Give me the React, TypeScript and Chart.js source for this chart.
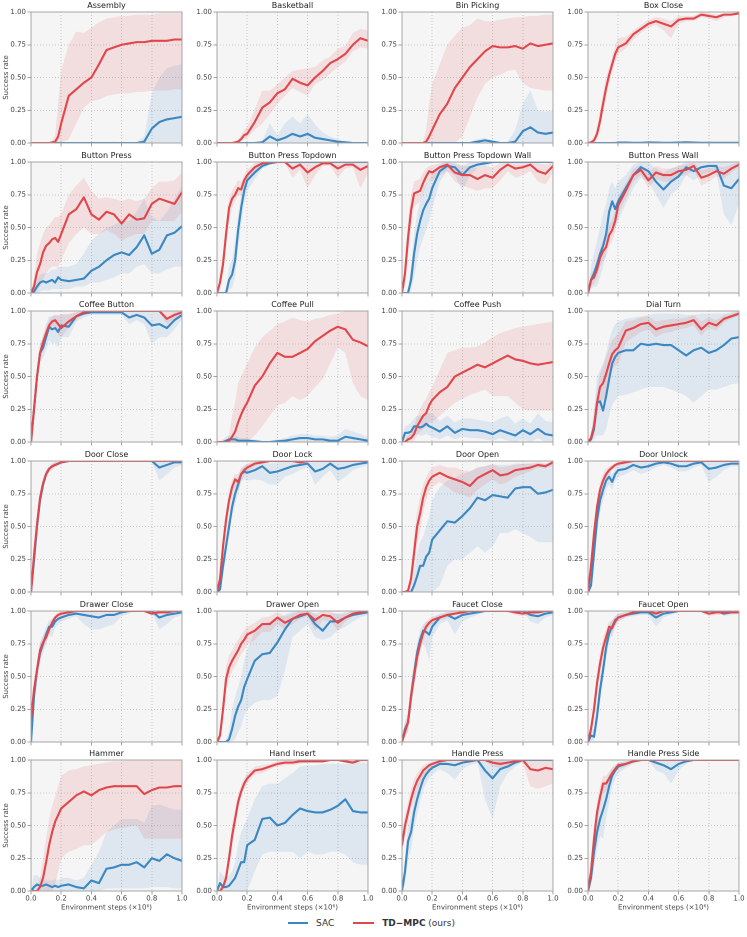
import React, { useEffect, useRef } from 'react';
import { Chart, registerables } from 'chart.js';

Chart.register(...registerables);

// ---------- shared axes ----------
const STEPS = [0, 0.02, 0.04, 0.06, 0.08, 0.1, 0.12, 0.14, 0.16, 0.18, 0.2, 0.25, 0.3, 0.35, 0.4, 0.45, 0.5, 0.55, 0.6, 0.65, 0.7, 0.75, 0.8, 0.85, 0.9, 0.95, 1];
const X_TICKS = [0, 0.2, 0.4, 0.6, 0.8, 1];
const Y_TICKS = [0, 0.25, 0.5, 0.75, 1];
const SERIES_NAMES = ['SAC', 'TD\u2212MPC'];

// ---------- Assembly ----------
const assemblySac = [0,0,0,0,0,0,0,0,0,0,0, 0,0,0,0,0,0,0,0,0,0,0.01,0.11,0.16,0.18,0.19,0.2];
const assemblySacLo = [0,0,0,0,0,0,0,0,0,0,0, 0,0,0,0,0,0,0,0,0,0,0,0,0,0,0,0];
const assemblySacHi = [0,0,0,0,0,0,0,0,0,0,0, 0,0.005,0.005,0.01,0.01,0.01,0.01,0.005,0.005,0.005,0.05,0.38,0.5,0.57,0.59,0.6];
const assemblyTd = [0,0,0,0,0,0,0,0.005,0.01,0.05,0.15, 0.36,0.41,0.46,0.5,0.6,0.71,0.73,0.75,0.76,0.77,0.77,0.78,0.78,0.78,0.79,0.79];
const assemblyTdLo = [0,0,0,0,0,0,0,0,0,0,0, 0.03,0.15,0.27,0.32,0.33,0.36,0.37,0.38,0.38,0.39,0.39,0.4,0.4,0.4,0.41,0.41];
const assemblyTdHi = [0,0,0,0,0,0,0,0.02,0.06,0.3,0.55, 0.75,0.85,0.84,0.88,0.92,0.95,0.96,0.97,0.97,0.98,0.98,0.98,0.99,0.99,0.99,0.99];

// ---------- Basketball ----------
const basketballSac = [0,0,0,0,0,0,0,0,0,0,0, 0,0.005,0.05,0.02,0.04,0.07,0.05,0.07,0.04,0.03,0.02,0.01,0.005,0,0,0];
const basketballSacLo = [0,0,0,0,0,0,0,0,0,0,0, 0,0,0,0,0,0,0,0,0,0,0,0,0,0,0,0];
const basketballSacHi = [0,0,0,0,0,0,0,0,0,0,0.01, 0,0.02,0.15,0.06,0.15,0.2,0.15,0.22,0.14,0.08,0.05,0.03,0.01,0.005,0,0];
const basketballTd = [0,0,0,0,0,0,0.005,0.01,0.03,0.06,0.07, 0.16,0.27,0.31,0.38,0.41,0.49,0.46,0.44,0.5,0.55,0.61,0.64,0.68,0.75,0.8,0.78];
const basketballTdLo = [0,0,0,0,0,0,0,0,0.01,0.03,0.04, 0.1,0.15,0.22,0.3,0.36,0.42,0.39,0.36,0.45,0.48,0.53,0.58,0.62,0.7,0.73,0.72];
const basketballTdHi = [0,0,0,0,0,0,0.01,0.03,0.06,0.1,0.12, 0.26,0.4,0.4,0.45,0.5,0.55,0.56,0.57,0.58,0.63,0.66,0.72,0.74,0.84,0.87,0.86];

// ---------- Bin Picking ----------
const binPickingSac = [0,0,0,0,0,0,0,0,0,0,0, 0,0,0,0,0,0.01,0.02,0.01,0,0,0.01,0.09,0.12,0.08,0.07,0.08];
const binPickingSacLo = [0,0,0,0,0,0,0,0,0,0,0, 0,0,0,0,0,0,0,0,0,0,0,0,0,0,0,0];
const binPickingSacHi = [0,0,0,0,0,0,0,0,0,0,0, 0,0,0,0,0.01,0.03,0.04,0.02,0.01,0.01,0.1,0.3,0.4,0.25,0.24,0.25];
const binPickingTd = [0,0,0,0,0,0,0,0,0.01,0.05,0.1, 0.22,0.3,0.42,0.5,0.58,0.64,0.7,0.74,0.73,0.73,0.74,0.72,0.76,0.74,0.75,0.76];
const binPickingTdLo = [0,0,0,0,0,0,0,0,0,0,0, 0,0,0,0.05,0.2,0.35,0.45,0.5,0.52,0.55,0.56,0.46,0.42,0.41,0.4,0.4];
const binPickingTdHi = [0,0,0,0,0,0,0,0.01,0.1,0.3,0.45, 0.6,0.75,0.82,0.88,0.9,0.95,0.93,0.93,0.94,0.95,0.96,0.96,0.97,0.97,0.98,0.98];

// ---------- Box Close ----------
const boxCloseSac = [0,0,0,0,0,0,0,0,0,0,0.003, 0.003,0.002,0.002,0.004,0.003,0.002,0.002,0.003,0.005,0.003,0.002,0.002,0.002,0.002,0.002,0.002];
const boxCloseSacLo = [0,0,0,0,0,0,0,0,0,0,0, 0,0,0,0,0,0,0,0,0,0,0,0,0,0,0,0];
const boxCloseSacHi = [0,0.003,0.003,0.003,0.003,0.005,0.006,0.008,0.01,0.01,0.012, 0.01,0.008,0.008,0.012,0.01,0.008,0.008,0.01,0.015,0.01,0.008,0.008,0.008,0.008,0.008,0.008];
const boxCloseTd = [0,0.005,0.02,0.07,0.17,0.3,0.42,0.52,0.6,0.68,0.73, 0.76,0.83,0.87,0.91,0.93,0.91,0.89,0.94,0.95,0.95,0.98,0.97,0.96,0.98,0.98,0.99];
const boxCloseTdLo = [0,0,0,0.03,0.1,0.22,0.34,0.46,0.54,0.62,0.68, 0.72,0.79,0.84,0.88,0.9,0.86,0.8,0.91,0.93,0.93,0.96,0.95,0.93,0.96,0.97,0.98];
const boxCloseTdHi = [0,0.02,0.05,0.12,0.25,0.38,0.5,0.58,0.66,0.74,0.8, 0.81,0.86,0.9,0.94,0.96,0.95,0.93,0.97,0.97,0.97,1,0.99,0.98,0.99,0.99,1];

// ---------- Button Press ----------
const buttonPressSac = [0,0.01,0.05,0.08,0.09,0.08,0.09,0.1,0.08,0.12,0.1, 0.09,0.1,0.11,0.17,0.2,0.25,0.29,0.31,0.29,0.35,0.44,0.3,0.33,0.44,0.46,0.51];
const buttonPressSacLo = [0,0,0,0.01,0.02,0.02,0.02,0.03,0.03,0.03,0.03, 0.03,0.05,0.05,0.08,0.08,0.1,0.12,0.15,0.15,0.2,0.22,0.15,0.15,0.18,0.2,0.2];
const buttonPressSacHi = [0,0.03,0.1,0.14,0.15,0.15,0.16,0.18,0.18,0.2,0.2, 0.2,0.22,0.3,0.4,0.45,0.5,0.52,0.55,0.55,0.62,0.72,0.58,0.55,0.62,0.72,0.82];
const buttonPressTd = [0,0.05,0.16,0.22,0.31,0.36,0.38,0.41,0.42,0.39,0.45, 0.6,0.64,0.73,0.6,0.56,0.62,0.6,0.53,0.6,0.56,0.57,0.68,0.72,0.7,0.68,0.77];
const buttonPressTdLo = [0,0,0.02,0.05,0.1,0.15,0.18,0.2,0.2,0.2,0.25, 0.38,0.45,0.5,0.45,0.45,0.48,0.45,0.4,0.43,0.45,0.45,0.55,0.55,0.55,0.55,0.62];
const buttonPressTdHi = [0,0.12,0.3,0.38,0.45,0.5,0.52,0.55,0.58,0.58,0.6, 0.75,0.82,0.88,0.78,0.72,0.73,0.72,0.7,0.72,0.7,0.72,0.8,0.85,0.85,0.86,0.92];

// ---------- Button Press Topdown ----------
const bpTopdownSac = [0,0,0,0,0.1,0.14,0.25,0.48,0.65,0.78,0.86, 0.92,0.97,0.99,1,1,1,1,1,1,1,1,1,1,1,1,1];
const bpTopdownSacLo = [0,0,0,0,0.02,0.04,0.12,0.35,0.52,0.68,0.78, 0.87,0.95,0.98,0.99,1,1,1,1,1,1,1,1,1,1,1,1];
const bpTopdownSacHi = [0,0,0,0.02,0.2,0.25,0.4,0.6,0.75,0.85,0.9, 0.96,0.99,1,1,1,1,1,1,1,1,1,1,1,1,1,1];
const bpTopdownTd = [0,0.08,0.22,0.45,0.65,0.72,0.75,0.8,0.79,0.86,0.9, 0.96,0.99,1,1,1,0.95,0.98,0.92,0.96,0.99,0.99,0.95,0.98,0.98,0.94,0.97];
const bpTopdownTdLo = [0,0.03,0.15,0.35,0.55,0.65,0.7,0.75,0.74,0.82,0.86, 0.93,0.97,0.99,0.99,0.99,0.88,0.94,0.8,0.9,0.97,0.97,0.88,0.95,0.96,0.8,0.92];
const bpTopdownTdHi = [0,0.15,0.32,0.55,0.72,0.78,0.82,0.86,0.85,0.9,0.94, 0.99,1,1,1,1,1,1,1,1,1,1,1,1,1,1,1];

// ---------- Button Press Topdown Wall ----------
const bpTopdownWallSac = [0,0,0,0.1,0.3,0.45,0.55,0.63,0.68,0.72,0.8, 0.93,0.97,0.96,0.9,0.96,0.98,0.99,1,1,1,1,1,1,1,1,1];
const bpTopdownWallSacLo = [0,0,0,0.02,0.12,0.25,0.35,0.42,0.48,0.55,0.65, 0.85,0.93,0.9,0.78,0.9,0.95,0.97,0.99,1,1,1,1,1,1,1,1];
const bpTopdownWallSacHi = [0,0,0.02,0.2,0.45,0.6,0.7,0.78,0.83,0.86,0.9, 0.98,1,1,0.97,1,1,1,1,1,1,1,1,1,1,1,1];
const bpTopdownWallTd = [0,0.15,0.42,0.63,0.76,0.77,0.78,0.84,0.89,0.93,0.92, 0.96,0.98,0.92,0.9,0.9,0.87,0.9,0.88,0.94,0.98,0.95,0.96,0.98,0.93,0.91,0.97];
const bpTopdownWallTdLo = [0,0.05,0.3,0.5,0.66,0.68,0.7,0.76,0.82,0.86,0.86, 0.9,0.93,0.85,0.82,0.8,0.78,0.8,0.8,0.86,0.93,0.88,0.9,0.93,0.85,0.83,0.92];
const bpTopdownWallTdHi = [0,0.25,0.55,0.75,0.85,0.86,0.87,0.92,0.95,0.97,0.97, 0.99,1,0.98,0.97,0.97,0.95,0.97,0.96,0.99,1,0.99,1,1,0.99,0.98,1];

// ---------- Button Press Wall ----------
const bpWallSac = [0,0.1,0.15,0.22,0.3,0.36,0.45,0.62,0.7,0.64,0.7, 0.8,0.9,0.96,0.93,0.85,0.79,0.85,0.89,0.96,0.93,0.96,0.97,0.97,0.82,0.8,0.87];
const bpWallSacLo = [0,0.03,0.05,0.05,0.12,0.2,0.3,0.45,0.52,0.5,0.55, 0.68,0.8,0.88,0.85,0.75,0.65,0.75,0.8,0.9,0.86,0.9,0.92,0.92,0.6,0.52,0.68];
const bpWallSacHi = [0,0.2,0.3,0.4,0.5,0.6,0.68,0.8,0.85,0.8,0.85, 0.9,0.98,1,1,0.95,0.92,0.95,0.97,1,0.99,1,1,1,1,1,1];
const bpWallTd = [0,0.1,0.12,0.18,0.27,0.32,0.35,0.44,0.48,0.55,0.67, 0.78,0.9,0.94,0.86,0.92,0.9,0.9,0.93,0.94,0.97,0.88,0.9,0.93,0.91,0.95,0.98];
const bpWallTdLo = [0,0.05,0.07,0.12,0.2,0.25,0.28,0.36,0.4,0.47,0.6, 0.72,0.85,0.9,0.8,0.87,0.85,0.85,0.89,0.9,0.94,0.82,0.85,0.89,0.87,0.92,0.96];
const bpWallTdHi = [0,0.15,0.18,0.25,0.34,0.4,0.43,0.52,0.56,0.63,0.74, 0.84,0.95,0.98,0.92,0.97,0.95,0.95,0.97,0.98,1,0.94,0.95,0.97,0.96,0.98,1];

// ---------- Coffee Button ----------
const coffeeButtonSac = [0,0.25,0.5,0.68,0.72,0.8,0.88,0.86,0.87,0.84,0.89, 0.88,0.96,0.98,0.99,0.99,0.99,0.99,0.99,0.95,0.97,0.95,0.89,0.9,0.87,0.93,0.97];
const coffeeButtonSacLo = [0,0.2,0.44,0.6,0.64,0.7,0.78,0.75,0.76,0.72,0.8, 0.8,0.92,0.95,0.97,0.97,0.97,0.97,0.97,0.9,0.93,0.9,0.75,0.8,0.8,0.86,0.94];
const coffeeButtonSacHi = [0,0.3,0.56,0.76,0.8,0.9,0.96,0.96,0.97,0.96,0.98, 0.97,0.99,1,1,1,1,1,1,1,1,1,1,1,0.95,0.99,1];
const coffeeButtonTd = [0,0.25,0.5,0.68,0.76,0.83,0.89,0.92,0.93,0.9,0.87, 0.92,0.96,0.99,1,1,1,1,1,1,1,1,1,1,0.94,0.97,0.99];
const coffeeButtonTdLo = [0,0.2,0.44,0.62,0.7,0.78,0.84,0.88,0.88,0.82,0.8, 0.87,0.93,0.98,0.99,1,1,1,1,1,1,1,1,0.99,0.9,0.94,0.98];
const coffeeButtonTdHi = [0,0.3,0.56,0.74,0.82,0.88,0.93,0.96,0.97,0.97,0.97, 0.98,0.99,1,1,1,1,1,1,1,1,1,1,1,1,1,1];

// ---------- Coffee Pull ----------
const coffeePullSac = [0,0,0,0.01,0.02,0.02,0.02,0.01,0.01,0.01,0.01, 0.005,0,0,0.005,0.01,0.02,0.03,0.03,0.02,0.02,0.01,0.01,0.04,0.03,0.02,0.01];
const coffeePullSacLo = [0,0,0,0,0,0,0,0,0,0,0, 0,0,0,0,0,0,0,0,0,0,0,0,0,0,0,0];
const coffeePullSacHi = [0,0.01,0.02,0.04,0.05,0.05,0.05,0.04,0.03,0.03,0.03, 0.02,0.01,0.01,0.02,0.03,0.05,0.06,0.06,0.05,0.05,0.04,0.05,0.1,0.08,0.06,0.04];
const coffeePullTd = [0,0,0,0,0.01,0.04,0.08,0.15,0.21,0.26,0.3, 0.43,0.5,0.6,0.68,0.65,0.65,0.68,0.71,0.77,0.81,0.85,0.88,0.86,0.78,0.76,0.73];
const coffeePullTdLo = [0,0,0,0,0,0,0,0,0,0,0, 0.05,0.12,0.2,0.28,0.3,0.35,0.32,0.35,0.42,0.48,0.6,0.72,0.68,0.45,0.35,0.32];
const coffeePullTdHi = [0,0,0,0,0.05,0.2,0.3,0.45,0.5,0.55,0.6, 0.72,0.8,0.85,0.9,0.92,0.95,0.93,0.92,0.94,0.95,0.97,0.98,1,1,1,1];

// ---------- Coffee Push ----------
const coffeePushSac = [0,0.07,0.07,0.08,0.12,0.12,0.11,0.12,0.14,0.12,0.11, 0.08,0.12,0.07,0.1,0.09,0.09,0.08,0.06,0.09,0.07,0.05,0.09,0.06,0.1,0.06,0.05];
const coffeePushSacLo = [0,0.02,0.02,0.03,0.06,0.06,0.05,0.05,0.06,0.05,0.04, 0.02,0.05,0.02,0.04,0.03,0.03,0.02,0.01,0.03,0.01,0,0.02,0,0.03,0,0];
const coffeePushSacHi = [0,0.12,0.13,0.15,0.18,0.2,0.2,0.2,0.22,0.22,0.22, 0.16,0.2,0.15,0.18,0.18,0.17,0.16,0.15,0.18,0.2,0.14,0.18,0.14,0.22,0.16,0.15];
const coffeePushTd = [0,0,0.02,0.03,0.06,0.12,0.16,0.2,0.22,0.28,0.32, 0.38,0.42,0.5,0.53,0.56,0.59,0.57,0.6,0.63,0.66,0.63,0.62,0.6,0.59,0.6,0.61];
const coffeePushTdLo = [0,0,0,0,0.01,0.05,0.08,0.1,0.12,0.15,0.15, 0.2,0.25,0.3,0.33,0.36,0.38,0.4,0.35,0.35,0.35,0.3,0.25,0.24,0.24,0.24,0.24];
const coffeePushTdHi = [0,0.02,0.05,0.08,0.12,0.2,0.25,0.3,0.33,0.38,0.42, 0.55,0.68,0.7,0.72,0.72,0.73,0.76,0.8,0.83,0.85,0.87,0.88,0.89,0.9,0.91,0.92];

// ---------- Dial Turn ----------
const dialTurnSac = [0,0.02,0.1,0.3,0.31,0.24,0.35,0.48,0.6,0.65,0.68, 0.7,0.7,0.75,0.74,0.75,0.74,0.74,0.7,0.66,0.7,0.72,0.68,0.7,0.74,0.79,0.8];
const dialTurnSacLo = [0,0,0.02,0.05,0.05,0.05,0.1,0.2,0.28,0.32,0.35, 0.36,0.38,0.4,0.42,0.42,0.42,0.4,0.38,0.35,0.3,0.35,0.4,0.4,0.42,0.44,0.45];
const dialTurnSacHi = [0,0.06,0.25,0.5,0.55,0.6,0.68,0.78,0.85,0.9,0.92, 0.94,0.95,0.96,0.97,0.98,0.98,0.98,0.98,0.97,0.97,0.98,0.98,0.98,0.98,0.99,1];
const dialTurnTd = [0,0.03,0.12,0.3,0.42,0.45,0.52,0.6,0.67,0.7,0.72, 0.85,0.87,0.9,0.91,0.86,0.88,0.89,0.9,0.91,0.93,0.86,0.91,0.89,0.94,0.96,0.98];
const dialTurnTdLo = [0,0,0.05,0.2,0.3,0.32,0.38,0.46,0.55,0.58,0.6, 0.76,0.8,0.84,0.86,0.8,0.83,0.84,0.86,0.87,0.89,0.81,0.87,0.85,0.91,0.94,0.96];
const dialTurnTdHi = [0,0.08,0.2,0.4,0.52,0.58,0.65,0.72,0.78,0.8,0.83, 0.92,0.93,0.95,0.96,0.92,0.93,0.94,0.94,0.95,0.97,0.92,0.95,0.93,0.97,0.98,1];

// ---------- Door Close ----------
const doorCloseSac = [0,0.24,0.5,0.7,0.82,0.9,0.94,0.96,0.97,0.98,0.99, 1,1,1,1,1,1,1,1,1,1,1,1,0.95,0.97,0.99,0.99];
const doorCloseSacLo = [0,0.18,0.44,0.65,0.78,0.87,0.91,0.93,0.95,0.96,0.98, 0.99,1,1,1,1,1,1,1,1,1,1,1,0.85,0.9,0.95,0.97];
const doorCloseSacHi = [0,0.3,0.56,0.75,0.86,0.93,0.96,0.98,0.99,0.99,1, 1,1,1,1,1,1,1,1,1,1,1,1,1,1,1,1];
const doorCloseTd = [0,0.28,0.52,0.72,0.83,0.9,0.94,0.96,0.97,0.98,0.99, 1,1,1,1,1,1,1,1,1,1,1,1,1,1,1,1];
const doorCloseTdLo = [0,0.22,0.46,0.67,0.79,0.87,0.92,0.94,0.96,0.97,0.98, 0.99,1,1,1,1,1,1,1,1,1,1,1,1,1,1,1];
const doorCloseTdHi = [0,0.34,0.58,0.77,0.87,0.93,0.96,0.98,0.99,0.99,1, 1,1,1,1,1,1,1,1,1,1,1,1,1,1,1,1];

// ---------- Door Lock ----------
const doorLockSac = [0,0.02,0.2,0.35,0.5,0.65,0.75,0.82,0.9,0.92,0.91, 0.93,0.96,0.91,0.92,0.94,0.96,0.97,0.98,0.92,0.94,0.98,0.94,0.95,0.97,0.98,0.99];
const doorLockSacLo = [0,0,0.12,0.27,0.42,0.57,0.67,0.75,0.84,0.86,0.85, 0.86,0.85,0.82,0.82,0.88,0.9,0.93,0.95,0.82,0.88,0.93,0.84,0.88,0.93,0.95,0.97];
const doorLockSacHi = [0,0.05,0.28,0.43,0.58,0.73,0.82,0.88,0.95,0.97,0.97, 0.99,1,0.98,0.99,0.99,1,1,1,1,1,1,1,1,1,1,1];
const doorLockTd = [0,0.1,0.35,0.55,0.7,0.8,0.86,0.84,0.9,0.93,0.95, 0.98,0.99,1,1,1,1,0.99,1,1,1,1,1,1,1,1,1];
const doorLockTdLo = [0,0.05,0.27,0.47,0.63,0.74,0.8,0.77,0.85,0.89,0.92, 0.96,0.98,0.99,1,1,1,0.97,0.99,1,1,1,1,1,1,1,1];
const doorLockTdHi = [0,0.15,0.43,0.63,0.77,0.86,0.9,0.9,0.94,0.96,0.98, 1,1,1,1,1,1,1,1,1,1,1,1,1,1,1,1];

// ---------- Door Open ----------
const doorOpenSac = [0,0,0,0,0.05,0.12,0.2,0.2,0.27,0.3,0.4, 0.47,0.54,0.53,0.58,0.64,0.72,0.7,0.74,0.73,0.72,0.79,0.8,0.8,0.75,0.76,0.78];
const doorOpenSacLo = [0,0,0,0,0,0,0,0,0,0,0, 0.05,0.2,0.25,0.25,0.3,0.35,0.3,0.35,0.45,0.45,0.48,0.45,0.42,0.38,0.38,0.38];
const doorOpenSacHi = [0,0,0,0.02,0.15,0.3,0.38,0.42,0.5,0.58,0.7, 0.8,0.85,0.87,0.9,0.92,0.95,0.96,0.97,0.97,0.97,0.98,0.98,0.98,0.98,0.98,0.98];
const doorOpenTd = [0,0,0.01,0.1,0.3,0.5,0.6,0.72,0.8,0.85,0.88, 0.91,0.88,0.86,0.84,0.81,0.87,0.9,0.93,0.89,0.9,0.93,0.94,0.95,0.97,0.96,0.99];
const doorOpenTdLo = [0,0,0,0.03,0.18,0.35,0.47,0.6,0.7,0.77,0.8, 0.84,0.8,0.76,0.74,0.72,0.78,0.82,0.86,0.82,0.84,0.88,0.9,0.92,0.95,0.94,0.97];
const doorOpenTdHi = [0,0,0.03,0.18,0.42,0.62,0.72,0.82,0.88,0.92,0.95, 0.97,0.95,0.95,0.93,0.92,0.95,0.96,0.98,0.95,0.96,0.97,0.98,0.98,0.99,0.98,1];

// ---------- Door Unlock ----------
const doorUnlockSac = [0,0.05,0.3,0.55,0.7,0.78,0.85,0.88,0.84,0.9,0.93, 0.94,0.97,0.95,0.96,0.98,0.99,0.98,0.96,0.96,0.98,0.99,0.94,0.95,0.97,0.98,0.98];
const doorUnlockSacLo = [0,0.01,0.2,0.45,0.6,0.7,0.78,0.82,0.78,0.85,0.88, 0.9,0.93,0.9,0.92,0.95,0.97,0.95,0.92,0.92,0.95,0.97,0.84,0.88,0.93,0.96,0.96];
const doorUnlockSacHi = [0,0.1,0.4,0.65,0.78,0.86,0.91,0.94,0.9,0.95,0.97, 0.98,1,0.99,1,1,1,1,1,1,1,1,1,1,1,1,1];
const doorUnlockTd = [0,0.2,0.45,0.65,0.78,0.85,0.9,0.93,0.95,0.97,0.98, 0.99,1,1,1,1,1,1,1,1,1,1,1,1,1,1,1];
const doorUnlockTdLo = [0,0.14,0.38,0.58,0.72,0.8,0.86,0.9,0.93,0.95,0.96, 0.98,0.99,1,1,1,1,1,1,1,1,1,1,1,1,1,1];
const doorUnlockTdHi = [0,0.26,0.52,0.72,0.84,0.9,0.94,0.96,0.97,0.98,0.99, 1,1,1,1,1,1,1,1,1,1,1,1,1,1,1,1];

// ---------- Drawer Close ----------
const drawerCloseSac = [0,0.35,0.55,0.68,0.75,0.82,0.88,0.88,0.92,0.94,0.95, 0.97,0.98,0.97,0.96,0.95,0.97,0.97,0.99,1,1,1,1,0.95,0.97,0.98,0.99];
const drawerCloseSacLo = [0,0.28,0.48,0.6,0.68,0.75,0.82,0.8,0.87,0.9,0.92, 0.94,0.96,0.9,0.86,0.86,0.88,0.9,0.96,0.98,1,1,1,0.86,0.9,0.95,0.97];
const drawerCloseSacHi = [0,0.42,0.62,0.75,0.82,0.88,0.93,0.94,0.96,0.97,0.98, 0.99,1,1,1,1,1,1,1,1,1,1,1,1,1,1,1];
const drawerCloseTd = [0.17,0.4,0.55,0.7,0.76,0.8,0.86,0.91,0.95,0.97,0.98, 0.99,1,1,1,1,1,1,1,1,1,1,0.98,0.99,0.99,1,1];
const drawerCloseTdLo = [0.12,0.33,0.48,0.63,0.71,0.76,0.82,0.88,0.92,0.95,0.96, 0.98,0.99,1,1,1,1,1,1,1,1,1,0.96,0.98,0.98,0.99,1];
const drawerCloseTdHi = [0.22,0.47,0.62,0.76,0.81,0.85,0.9,0.94,0.97,0.99,1, 1,1,1,1,1,1,1,1,1,1,1,1,1,1,1,1];

// ---------- Drawer Open ----------
const drawerOpenSac = [0,0,0,0,0.02,0.1,0.2,0.27,0.32,0.42,0.48, 0.62,0.67,0.68,0.76,0.86,0.94,0.96,0.98,0.9,0.85,0.92,0.92,0.95,0.97,0.98,0.99];
const drawerOpenSacLo = [0,0,0,0,0,0,0.02,0.08,0.12,0.2,0.25, 0.3,0.32,0.32,0.35,0.55,0.8,0.85,0.9,0.8,0.78,0.8,0.85,0.88,0.92,0.95,0.97];
const drawerOpenSacHi = [0,0,0,0.02,0.08,0.25,0.35,0.42,0.5,0.62,0.7, 0.85,0.9,0.92,0.95,0.97,1,1,1,0.98,0.95,0.98,0.98,0.99,1,1,1];
const drawerOpenTd = [0,0.05,0.25,0.48,0.57,0.62,0.66,0.7,0.75,0.78,0.82, 0.85,0.9,0.9,0.95,0.91,0.94,0.97,0.98,0.93,0.97,0.96,0.91,0.95,0.98,0.99,1];
const drawerOpenTdLo = [0,0.01,0.15,0.38,0.48,0.54,0.58,0.62,0.67,0.7,0.74, 0.78,0.84,0.84,0.9,0.86,0.9,0.94,0.96,0.85,0.93,0.92,0.85,0.92,0.96,0.98,0.99];
const drawerOpenTdHi = [0,0.1,0.35,0.58,0.66,0.7,0.74,0.78,0.82,0.85,0.88, 0.91,0.95,0.96,0.99,0.96,0.98,1,1,0.98,1,1,0.97,0.98,1,1,1];

// ---------- Faucet Close ----------
const faucetCloseSac = [0,0.1,0.15,0.35,0.52,0.68,0.78,0.85,0.84,0.82,0.88, 0.95,0.97,0.94,0.97,0.98,0.99,1,1,1,1,1,1,0.97,0.96,0.98,0.99];
const faucetCloseSacLo = [0,0.04,0.08,0.26,0.42,0.58,0.7,0.76,0.7,0.62,0.8, 0.9,0.93,0.82,0.92,0.95,0.97,0.99,1,1,1,1,1,0.92,0.9,0.95,0.97];
const faucetCloseSacHi = [0,0.16,0.22,0.44,0.62,0.76,0.85,0.9,0.92,0.92,0.94, 0.98,0.99,0.99,1,1,1,1,1,1,1,1,1,1,1,1,1];
const faucetCloseTd = [0,0.08,0.15,0.35,0.5,0.65,0.75,0.83,0.88,0.91,0.93, 0.95,0.97,0.98,0.99,1,1,1,1,1,1,0.99,0.98,0.99,0.99,1,1];
const faucetCloseTdLo = [0,0.03,0.08,0.26,0.41,0.57,0.68,0.77,0.84,0.88,0.9, 0.93,0.95,0.97,0.98,0.99,1,1,1,1,1,0.97,0.96,0.97,0.98,0.99,1];
const faucetCloseTdHi = [0,0.14,0.22,0.44,0.59,0.72,0.81,0.88,0.92,0.94,0.96, 0.97,0.99,1,1,1,1,1,1,1,1,1,1,1,1,1,1];

// ---------- Faucet Open ----------
const faucetOpenSac = [0,0.05,0.04,0.2,0.4,0.55,0.72,0.83,0.88,0.93,0.95, 0.97,0.98,0.99,0.99,0.95,0.98,0.99,1,1,1,1,1,1,0.98,0.99,0.99];
const faucetOpenSacLo = [0,0.01,0.01,0.12,0.3,0.46,0.64,0.76,0.83,0.89,0.92, 0.95,0.96,0.97,0.97,0.88,0.95,0.97,0.99,1,1,1,1,1,0.96,0.97,0.98];
const faucetOpenSacHi = [0,0.1,0.1,0.3,0.5,0.64,0.8,0.89,0.93,0.96,0.98, 0.99,1,1,1,1,1,1,1,1,1,1,1,1,1,1,1];
const faucetOpenTd = [0,0.1,0.25,0.45,0.6,0.72,0.8,0.88,0.87,0.92,0.95, 0.97,0.99,1,1,0.98,1,1,1,1,1,1,0.98,0.99,0.99,0.99,0.99];
const faucetOpenTdLo = [0,0.04,0.17,0.36,0.52,0.65,0.74,0.83,0.8,0.88,0.92, 0.95,0.98,0.99,0.99,0.95,0.99,1,1,1,1,1,0.96,0.97,0.97,0.98,0.98];
const faucetOpenTdHi = [0,0.16,0.33,0.54,0.68,0.79,0.86,0.92,0.93,0.96,0.98, 0.99,1,1,1,1,1,1,1,1,1,1,1,1,1,1,1];

// ---------- Hammer ----------
const hammerSac = [0,0.03,0.05,0.04,0.04,0.05,0.04,0.03,0.04,0.03,0.04, 0.05,0.03,0.02,0.08,0.06,0.17,0.18,0.2,0.2,0.22,0.18,0.25,0.23,0.28,0.25,0.23];
const hammerSacLo = [0,0,0,0,0,0,0,0,0,0,0, 0,0,0,0,0,0.02,0.02,0.02,0.02,0.02,0.02,0.03,0.03,0.03,0.02,0.02];
const hammerSacHi = [0,0.12,0.12,0.1,0.09,0.08,0.08,0.08,0.09,0.08,0.1, 0.1,0.08,0.1,0.2,0.3,0.45,0.5,0.55,0.55,0.55,0.52,0.65,0.66,0.64,0.62,0.62];
const hammerTd = [0,0,0,0.03,0.1,0.22,0.35,0.45,0.53,0.58,0.63, 0.68,0.73,0.76,0.73,0.77,0.79,0.8,0.8,0.8,0.8,0.74,0.77,0.79,0.79,0.8,0.8];
const hammerTdLo = [0,0,0,0,0,0,0,0,0.05,0.15,0.25, 0.3,0.32,0.35,0.35,0.4,0.45,0.47,0.48,0.49,0.5,0.4,0.4,0.4,0.4,0.4,0.4];
const hammerTdHi = [0,0,0.02,0.1,0.25,0.4,0.55,0.65,0.72,0.8,0.88, 0.92,0.93,0.95,0.96,0.97,0.98,0.99,0.99,1,1,1,1,1,1,1,1];

// ---------- Hand Insert ----------
const handInsertSac = [0,0.06,0.03,0.03,0.04,0.07,0.1,0.16,0.22,0.22,0.35, 0.39,0.55,0.56,0.5,0.52,0.58,0.63,0.61,0.6,0.6,0.62,0.65,0.7,0.61,0.6,0.6];
const handInsertSacLo = [0,0,0,0,0,0,0,0,0,0,0, 0.15,0.28,0.3,0.3,0.3,0.3,0.25,0.3,0.28,0.28,0.3,0.3,0.28,0.22,0.2,0.2];
const handInsertSacHi = [0,0.15,0.12,0.1,0.12,0.15,0.22,0.35,0.45,0.5,0.55, 0.7,0.8,0.82,0.82,0.86,0.9,0.95,0.96,0.96,0.97,0.97,0.97,0.97,0.98,0.98,0.98];
const handInsertTd = [0,0,0.03,0.1,0.25,0.42,0.55,0.68,0.76,0.82,0.86, 0.92,0.93,0.95,0.97,0.98,0.98,0.99,0.99,0.99,0.99,1,1,0.99,0.98,1,1];
const handInsertTdLo = [0,0,0.01,0.05,0.18,0.34,0.48,0.62,0.71,0.78,0.82, 0.89,0.9,0.93,0.95,0.96,0.96,0.97,0.98,0.98,0.98,0.99,0.99,0.98,0.97,0.99,0.99];
const handInsertTdHi = [0,0.01,0.06,0.16,0.33,0.5,0.62,0.74,0.81,0.86,0.9, 0.95,0.96,0.97,0.99,1,1,1,1,1,1,1,1,1,1,1,1];

// ---------- Handle Press ----------
const handlePressSac = [0,0.15,0.38,0.45,0.6,0.7,0.78,0.85,0.89,0.92,0.94, 0.97,0.97,0.96,0.98,0.99,1,0.92,0.86,0.93,0.95,0.98,1,1,1,1,1];
const handlePressSacLo = [0,0.05,0.25,0.32,0.48,0.58,0.68,0.77,0.82,0.86,0.89, 0.93,0.9,0.85,0.93,0.96,0.98,0.7,0.55,0.8,0.9,0.95,0.99,1,1,1,1];
const handlePressSacHi = [0,0.25,0.5,0.58,0.72,0.8,0.86,0.91,0.94,0.96,0.98, 1,1,1,1,1,1,1,1,1,1,1,1,1,1,1,1];
const handlePressTd = [0.35,0.5,0.6,0.7,0.78,0.84,0.88,0.92,0.94,0.96,0.97, 0.99,1,1,1,1,1,1,0.98,0.97,0.98,0.99,1,0.93,0.92,0.94,0.93];
const handlePressTdLo = [0.28,0.42,0.52,0.62,0.7,0.77,0.82,0.87,0.9,0.93,0.94, 0.97,0.99,1,1,1,1,0.99,0.95,0.94,0.96,0.97,0.98,0.8,0.78,0.8,0.82];
const handlePressTdHi = [0.42,0.58,0.68,0.78,0.85,0.9,0.93,0.96,0.97,0.98,0.99, 1,1,1,1,1,1,1,1,1,1,1,1,1,1,1,1];

// ---------- Handle Press Side ----------
const handlePressSideSac = [0,0.1,0.3,0.45,0.55,0.62,0.7,0.8,0.88,0.92,0.95, 0.97,0.99,1,1,0.98,0.96,0.93,0.97,0.99,1,1,1,1,1,1,1];
const handlePressSideSacLo = [0,0.03,0.18,0.32,0.42,0.4,0.55,0.68,0.8,0.86,0.9, 0.94,0.97,0.99,1,0.92,0.9,0.82,0.92,0.97,1,1,1,1,1,1,1];
const handlePressSideSacHi = [0,0.18,0.42,0.58,0.68,0.8,0.84,0.9,0.94,0.96,0.98, 0.99,1,1,1,1,1,1,1,1,1,1,1,1,1,1,1];
const handlePressSideTd = [0,0.15,0.4,0.6,0.72,0.82,0.82,0.86,0.9,0.93,0.96, 0.97,0.99,1,1,1,1,1,1,1,1,1,1,1,1,1,1];
const handlePressSideTdLo = [0,0.08,0.3,0.5,0.64,0.75,0.76,0.81,0.86,0.9,0.93, 0.95,0.98,1,1,1,1,1,1,1,1,1,1,1,1,1,1];
const handlePressSideTdHi = [0,0.22,0.5,0.68,0.8,0.88,0.88,0.91,0.94,0.96,0.98, 0.99,1,1,1,1,1,1,1,1,1,1,1,1,1,1,1];

type PanelData = { title: string; sac: number[]; sacLo: number[]; sacHi: number[]; td: number[]; tdLo: number[]; tdHi: number[] };

const PANELS: PanelData[] = [
  { title: 'Assembly', sac: assemblySac, sacLo: assemblySacLo, sacHi: assemblySacHi, td: assemblyTd, tdLo: assemblyTdLo, tdHi: assemblyTdHi },
  { title: 'Basketball', sac: basketballSac, sacLo: basketballSacLo, sacHi: basketballSacHi, td: basketballTd, tdLo: basketballTdLo, tdHi: basketballTdHi },
  { title: 'Bin Picking', sac: binPickingSac, sacLo: binPickingSacLo, sacHi: binPickingSacHi, td: binPickingTd, tdLo: binPickingTdLo, tdHi: binPickingTdHi },
  { title: 'Box Close', sac: boxCloseSac, sacLo: boxCloseSacLo, sacHi: boxCloseSacHi, td: boxCloseTd, tdLo: boxCloseTdLo, tdHi: boxCloseTdHi },
  { title: 'Button Press', sac: buttonPressSac, sacLo: buttonPressSacLo, sacHi: buttonPressSacHi, td: buttonPressTd, tdLo: buttonPressTdLo, tdHi: buttonPressTdHi },
  { title: 'Button Press Topdown', sac: bpTopdownSac, sacLo: bpTopdownSacLo, sacHi: bpTopdownSacHi, td: bpTopdownTd, tdLo: bpTopdownTdLo, tdHi: bpTopdownTdHi },
  { title: 'Button Press Topdown Wall', sac: bpTopdownWallSac, sacLo: bpTopdownWallSacLo, sacHi: bpTopdownWallSacHi, td: bpTopdownWallTd, tdLo: bpTopdownWallTdLo, tdHi: bpTopdownWallTdHi },
  { title: 'Button Press Wall', sac: bpWallSac, sacLo: bpWallSacLo, sacHi: bpWallSacHi, td: bpWallTd, tdLo: bpWallTdLo, tdHi: bpWallTdHi },
  { title: 'Coffee Button', sac: coffeeButtonSac, sacLo: coffeeButtonSacLo, sacHi: coffeeButtonSacHi, td: coffeeButtonTd, tdLo: coffeeButtonTdLo, tdHi: coffeeButtonTdHi },
  { title: 'Coffee Pull', sac: coffeePullSac, sacLo: coffeePullSacLo, sacHi: coffeePullSacHi, td: coffeePullTd, tdLo: coffeePullTdLo, tdHi: coffeePullTdHi },
  { title: 'Coffee Push', sac: coffeePushSac, sacLo: coffeePushSacLo, sacHi: coffeePushSacHi, td: coffeePushTd, tdLo: coffeePushTdLo, tdHi: coffeePushTdHi },
  { title: 'Dial Turn', sac: dialTurnSac, sacLo: dialTurnSacLo, sacHi: dialTurnSacHi, td: dialTurnTd, tdLo: dialTurnTdLo, tdHi: dialTurnTdHi },
  { title: 'Door Close', sac: doorCloseSac, sacLo: doorCloseSacLo, sacHi: doorCloseSacHi, td: doorCloseTd, tdLo: doorCloseTdLo, tdHi: doorCloseTdHi },
  { title: 'Door Lock', sac: doorLockSac, sacLo: doorLockSacLo, sacHi: doorLockSacHi, td: doorLockTd, tdLo: doorLockTdLo, tdHi: doorLockTdHi },
  { title: 'Door Open', sac: doorOpenSac, sacLo: doorOpenSacLo, sacHi: doorOpenSacHi, td: doorOpenTd, tdLo: doorOpenTdLo, tdHi: doorOpenTdHi },
  { title: 'Door Unlock', sac: doorUnlockSac, sacLo: doorUnlockSacLo, sacHi: doorUnlockSacHi, td: doorUnlockTd, tdLo: doorUnlockTdLo, tdHi: doorUnlockTdHi },
  { title: 'Drawer Close', sac: drawerCloseSac, sacLo: drawerCloseSacLo, sacHi: drawerCloseSacHi, td: drawerCloseTd, tdLo: drawerCloseTdLo, tdHi: drawerCloseTdHi },
  { title: 'Drawer Open', sac: drawerOpenSac, sacLo: drawerOpenSacLo, sacHi: drawerOpenSacHi, td: drawerOpenTd, tdLo: drawerOpenTdLo, tdHi: drawerOpenTdHi },
  { title: 'Faucet Close', sac: faucetCloseSac, sacLo: faucetCloseSacLo, sacHi: faucetCloseSacHi, td: faucetCloseTd, tdLo: faucetCloseTdLo, tdHi: faucetCloseTdHi },
  { title: 'Faucet Open', sac: faucetOpenSac, sacLo: faucetOpenSacLo, sacHi: faucetOpenSacHi, td: faucetOpenTd, tdLo: faucetOpenTdLo, tdHi: faucetOpenTdHi },
  { title: 'Hammer', sac: hammerSac, sacLo: hammerSacLo, sacHi: hammerSacHi, td: hammerTd, tdLo: hammerTdLo, tdHi: hammerTdHi },
  { title: 'Hand Insert', sac: handInsertSac, sacLo: handInsertSacLo, sacHi: handInsertSacHi, td: handInsertTd, tdLo: handInsertTdLo, tdHi: handInsertTdHi },
  { title: 'Handle Press', sac: handlePressSac, sacLo: handlePressSacLo, sacHi: handlePressSacHi, td: handlePressTd, tdLo: handlePressTdLo, tdHi: handlePressTdHi },
  { title: 'Handle Press Side', sac: handlePressSideSac, sacLo: handlePressSideSacLo, sacHi: handlePressSideSacHi, td: handlePressSideTd, tdLo: handlePressSideTdLo, tdHi: handlePressSideTdHi },
];

// ---------- style ----------
const FONT = '"DejaVu Sans", "Noto Sans", sans-serif';
const BLUE = '#3a87c2';
const RED = '#e0474c';
const BLUE_BAND = 'rgba(58,135,194,0.12)';
const RED_BAND = 'rgba(224,71,76,0.13)';
const BG = '#f5f5f5';
const GRID = '#bdbdbd';
const SPINE = '#a6a6a6';
const TEXT = '#444444';

const COL_LEFT = [0, 186, 371, 557];
const ROW_TOP = [0, 150, 299, 449, 599, 748];
const Y_AXIS_W = 31;
const PAD_TOP = 12;
const PLOT_W = 151;
const PLOT_H = 131;
const PAD_RIGHT = 8;

const decoPlugin = {
  id: 'panelDeco',
  beforeDraw(chart: any) {
    const { ctx, chartArea: a } = chart;
    ctx.save();
    ctx.fillStyle = BG;
    ctx.fillRect(a.left, a.top, a.right - a.left, a.bottom - a.top);
    ctx.restore();
  },
  afterDatasetsDraw(chart: any) {
    const { ctx, chartArea: a } = chart;
    ctx.save();
    ctx.strokeStyle = SPINE;
    ctx.lineWidth = 1;
    ctx.strokeRect(a.left, a.top, a.right - a.left, a.bottom - a.top);
    ctx.restore();
  },
  afterDraw(chart: any, _args: any, opts: any) {
    const { ctx, chartArea: a } = chart;
    ctx.save();
    ctx.font = `8px ${FONT}`;
    ctx.fillStyle = '#222';
    ctx.textAlign = 'center';
    ctx.textBaseline = 'middle';
    ctx.fillText(opts.title, (a.left + a.right) / 2, a.top - 6);
    ctx.restore();
  },
};

function toPoints(arr: number[]) {
  return STEPS.map((x, i) => ({ x, y: arr[i] }));
}

function Panel({ p, index }: { p: PanelData; index: number }) {
  const ref = useRef<HTMLCanvasElement>(null);
  const col = index % 4;
  const row = Math.floor(index / 4);
  const isBottom = row === 5;
  const xAxisH = isBottom ? 22 : 6;
  const width = Y_AXIS_W + PLOT_W + PAD_RIGHT;
  const height = PAD_TOP + PLOT_H + xAxisH;

  useEffect(() => {
    if (!ref.current) return;
    const band = (data: number[], color: string, fill: any, order: number) => ({
      data: toPoints(data),
      borderWidth: 0,
      borderColor: 'transparent',
      backgroundColor: color,
      pointRadius: 0,
      fill,
      tension: 0,
      order,
      clip: 0,
    });
    const line = (label: string, data: number[], color: string, order: number) => ({
      label,
      data: toPoints(data),
      borderColor: color,
      borderWidth: 2.1,
      pointRadius: 0,
      fill: false,
      tension: 0,
      order,
      clip: 0,
      borderJoinStyle: 'round',
      borderCapStyle: 'round',
    });
    const chart = new Chart(ref.current, {
      type: 'line',
      data: {
        datasets: [
          band(p.sacLo, 'transparent', false, 5),
          band(p.sacHi, BLUE_BAND, '-1', 4),
          band(p.tdLo, 'transparent', false, 3),
          band(p.tdHi, RED_BAND, '-1', 2),
          line(SERIES_NAMES[0], p.sac, BLUE, 1),
          line(SERIES_NAMES[1], p.td, RED, 0),
        ] as any,
      },
      options: {
        animation: false,
        responsive: false,
        devicePixelRatio: 2,
        events: [],
        layout: { padding: { left: 0, top: PAD_TOP, right: PAD_RIGHT, bottom: 0 } },
        plugins: {
          legend: { display: false },
          tooltip: { enabled: false },
          title: { display: false },
          panelDeco: { title: p.title },
        } as any,
        scales: {
          x: {
            type: 'linear',
            min: 0,
            max: 1,
            afterBuildTicks: (s: any) => { s.ticks = X_TICKS.map((v) => ({ value: v })); },
            afterFit: (s: any) => { s.height = xAxisH; },
            ticks: {
              display: isBottom,
              callback: (v: any) => Number(v).toFixed(1),
              font: { family: FONT, size: 7 },
              color: TEXT,
              padding: 0,
              maxRotation: 0,
              autoSkip: false,
            },
            grid: {
              color: GRID,
              lineWidth: 0.8,
              tickLength: 3.5,
              tickColor: '#8c8c8c',
              tickWidth: 0.8,
              tickBorderDash: [],
            } as any,
            border: { display: false, dash: [1, 2] },
            title: {
              display: isBottom,
              text: 'Environment steps (\u00d710\u2076)',
              font: { family: FONT, size: 7 },
              color: TEXT,
              padding: { top: 0, bottom: 1 },
            },
          },
          y: {
            type: 'linear',
            min: 0,
            max: 1,
            afterBuildTicks: (s: any) => { s.ticks = Y_TICKS.map((v) => ({ value: v })); },
            afterFit: (s: any) => { s.width = Y_AXIS_W; },
            ticks: {
              callback: (v: any) => Number(v).toFixed(2),
              font: { family: FONT, size: 7 },
              color: TEXT,
              padding: 1.5,
              autoSkip: false,
            },
            grid: {
              color: GRID,
              lineWidth: 0.8,
              tickLength: 3.5,
              tickColor: '#8c8c8c',
              tickWidth: 0.8,
              tickBorderDash: [],
            } as any,
            border: { display: false, dash: [1, 2] },
            title: {
              display: col === 0,
              text: 'Success rate',
              font: { family: FONT, size: 7 },
              color: TEXT,
              padding: { top: 2, bottom: 0 },
            },
          },
        },
      } as any,
      plugins: [decoPlugin],
    });
    return () => chart.destroy();
  }, [p, xAxisH, isBottom, col]);

  return (
    <canvas
      ref={ref}
      width={width}
      height={height}
      style={{ position: 'absolute', left: COL_LEFT[col], top: ROW_TOP[row], width, height }}
    />
  );
}

export default function App() {
  return (
    <div style={{ position: 'absolute', left: 0, top: 0, width: 747, height: 937, background: '#fff', overflow: 'hidden' }}>
      {PANELS.map((p, i) => (
        <Panel key={p.title} p={p} index={i} />
      ))}
      <div
        style={{
          position: 'absolute',
          left: 288,
          top: 916,
          height: 14,
          display: 'flex',
          alignItems: 'center',
          fontFamily: FONT,
          fontSize: 9,
          color: '#333',
          whiteSpace: 'nowrap',
        }}
      >
        <span style={{ display: 'inline-block', width: 20, height: 2, background: BLUE }} />
        <span style={{ marginLeft: 8 }}>{SERIES_NAMES[0]}</span>
        <span style={{ display: 'inline-block', width: 21, height: 2, background: RED, marginLeft: 19 }} />
        <span style={{ marginLeft: 8 }}>
          <b>{SERIES_NAMES[1]}</b> (ours)
        </span>
      </div>
    </div>
  );
}
